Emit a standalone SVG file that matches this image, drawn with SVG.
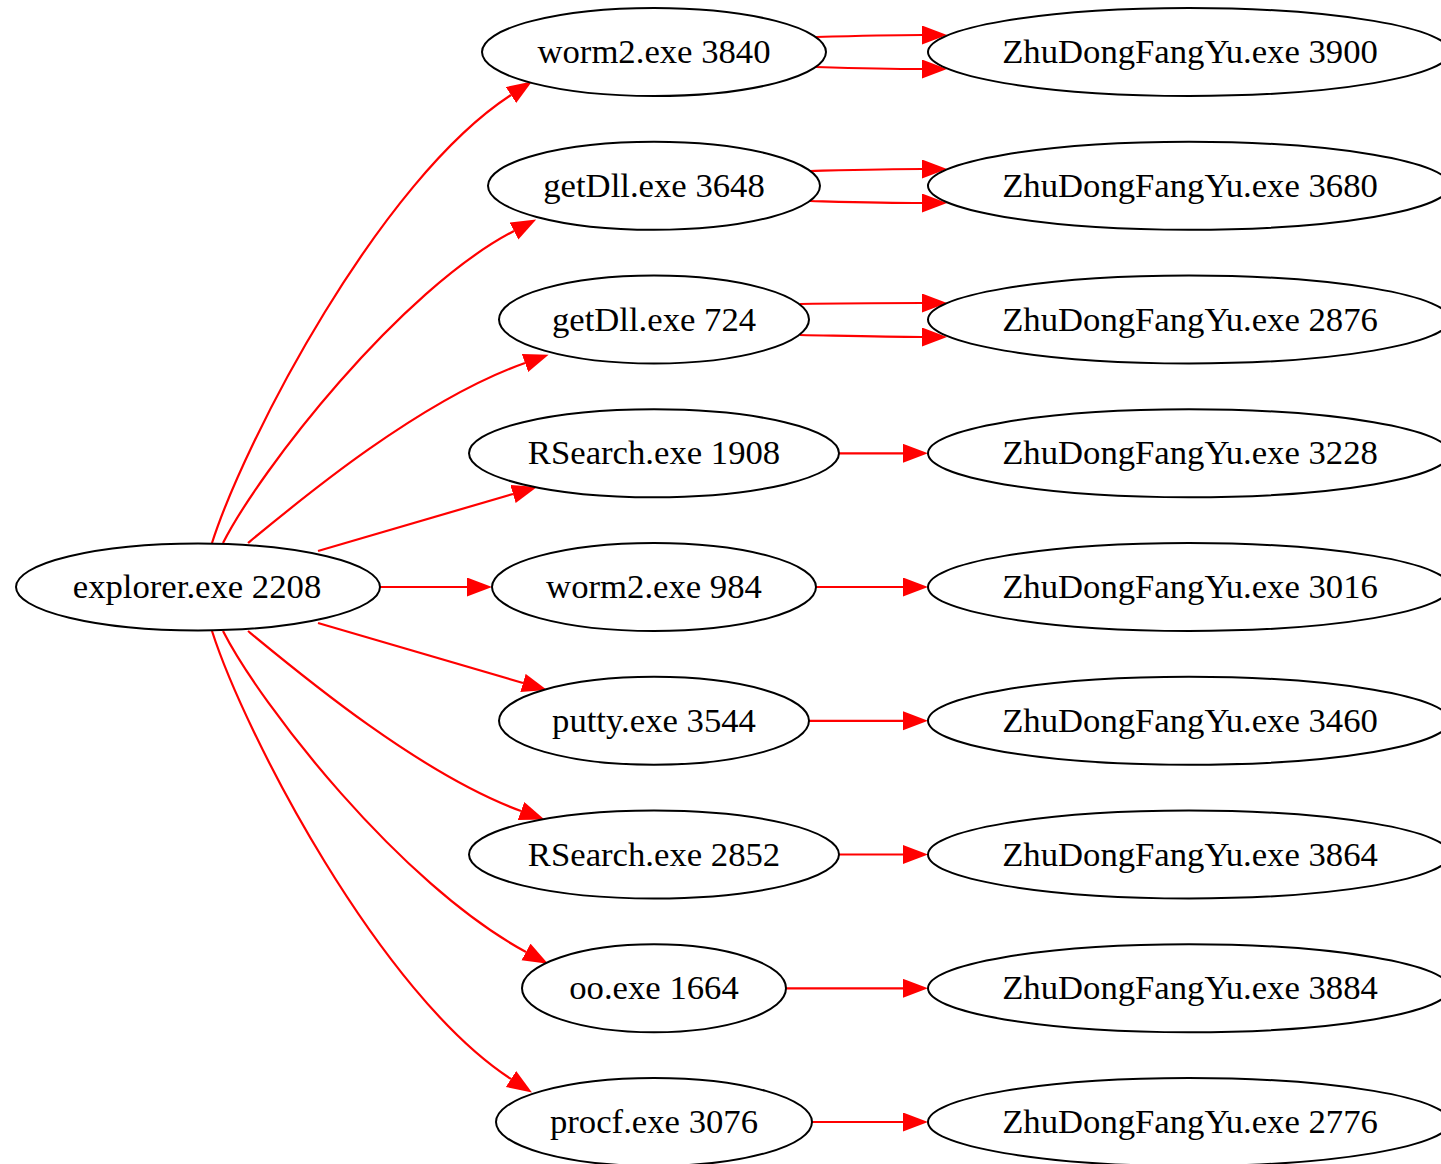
<svg xmlns="http://www.w3.org/2000/svg" width="1441" height="1164" viewBox="0 0 1441 1164">
<style>
.node ellipse{fill:#fff;stroke:#000;stroke-width:2}
.node text{font-family:"Liberation Serif","Times New Roman",serif;font-size:34.7px;text-anchor:middle;fill:#000}
.edges path{fill:none;stroke:#ff0000;stroke-width:2.2;marker-end:url(#arr)}
</style>
<defs>
<marker id="arr" markerUnits="userSpaceOnUse" markerWidth="26" markerHeight="20" viewBox="0 0 26 20" refX="0" refY="9.5" orient="auto">
<path d="M0,0 L25,9.5 L0,19 z" fill="#ff0000"/>
</marker>
</defs>
<rect width="1441" height="1164" fill="#fff"/>
<g class="edges" id="connectors">
<path d="M212,543 C245,440 380,180 511,95"/>
<path d="M223,543 C260,470 400,290 514,231"/>
<path d="M248,543 C300,500 420,400 525,363"/>
<path d="M318,551 L513,494"/>
<path d="M380,587 L467,587"/>
<path d="M318,623 L523,683"/>
<path d="M248,631 C300,674 420,774 521,811"/>
<path d="M223,631 C260,704 400,884 526,952"/>
<path d="M212,631 C245,734 380,994 511,1079"/>
<path d="M816,37 C850,36 885,35 922,35"/>
<path d="M816,67 C850,68 885,69 922,69"/>
<path d="M810,171 C850,170 885,169 922,169"/>
<path d="M810,201 C850,202 885,203 922,203"/>
<path d="M800,304 C850,303 885,303 922,303"/>
<path d="M800,335 C850,336 885,337 922,337"/>
<path d="M839,453.3 L903,453.3"/>
<path d="M816,587 L903,587"/>
<path d="M809,720.8 L903,720.8"/>
<path d="M839,854.5 L903,854.5"/>
<path d="M786,988.3 L903,988.3"/>
<path d="M812,1122 L903,1122"/>
</g>
<g class="node" id="explorer_2208"><ellipse cx="198" cy="587" rx="182" ry="43.5"/><text x="197" y="598">explorer.exe 2208</text></g>
<g class="node" id="worm2_3840"><ellipse cx="654" cy="52" rx="172" ry="44"/><text x="654" y="63">worm2.exe 3840</text></g>
<g class="node" id="getDll_3648"><ellipse cx="654" cy="185.8" rx="166" ry="44"/><text x="654" y="196.8">getDll.exe 3648</text></g>
<g class="node" id="getDll_724"><ellipse cx="654" cy="319.5" rx="155" ry="44"/><text x="654" y="330.5">getDll.exe 724</text></g>
<g class="node" id="RSearch_1908"><ellipse cx="654" cy="453.3" rx="185" ry="44"/><text x="654" y="464.3">RSearch.exe 1908</text></g>
<g class="node" id="worm2_984"><ellipse cx="654" cy="587" rx="162" ry="44"/><text x="654" y="598">worm2.exe 984</text></g>
<g class="node" id="putty_3544"><ellipse cx="654" cy="720.8" rx="155" ry="44"/><text x="654" y="731.8">putty.exe 3544</text></g>
<g class="node" id="RSearch_2852"><ellipse cx="654" cy="854.5" rx="185" ry="44"/><text x="654" y="865.5">RSearch.exe 2852</text></g>
<g class="node" id="oo_1664"><ellipse cx="654" cy="988.3" rx="132" ry="44"/><text x="654" y="999.3">oo.exe 1664</text></g>
<g class="node" id="procf_3076"><ellipse cx="654" cy="1122" rx="158" ry="44"/><text x="654" y="1133">procf.exe 3076</text></g>
<g class="node" id="ZDFY_3900"><ellipse cx="1189" cy="52" rx="261" ry="44"/><text x="1190" y="63">ZhuDongFangYu.exe 3900</text></g>
<g class="node" id="ZDFY_3680"><ellipse cx="1189" cy="185.8" rx="261" ry="44"/><text x="1190" y="196.8">ZhuDongFangYu.exe 3680</text></g>
<g class="node" id="ZDFY_2876"><ellipse cx="1189" cy="319.5" rx="261" ry="44"/><text x="1190" y="330.5">ZhuDongFangYu.exe 2876</text></g>
<g class="node" id="ZDFY_3228"><ellipse cx="1189" cy="453.3" rx="261" ry="44"/><text x="1190" y="464.3">ZhuDongFangYu.exe 3228</text></g>
<g class="node" id="ZDFY_3016"><ellipse cx="1189" cy="587" rx="261" ry="44"/><text x="1190" y="598">ZhuDongFangYu.exe 3016</text></g>
<g class="node" id="ZDFY_3460"><ellipse cx="1189" cy="720.8" rx="261" ry="44"/><text x="1190" y="731.8">ZhuDongFangYu.exe 3460</text></g>
<g class="node" id="ZDFY_3864"><ellipse cx="1189" cy="854.5" rx="261" ry="44"/><text x="1190" y="865.5">ZhuDongFangYu.exe 3864</text></g>
<g class="node" id="ZDFY_3884"><ellipse cx="1189" cy="988.3" rx="261" ry="44"/><text x="1190" y="999.3">ZhuDongFangYu.exe 3884</text></g>
<g class="node" id="ZDFY_2776"><ellipse cx="1189" cy="1122" rx="261" ry="44"/><text x="1190" y="1133">ZhuDongFangYu.exe 2776</text></g>
</svg>
